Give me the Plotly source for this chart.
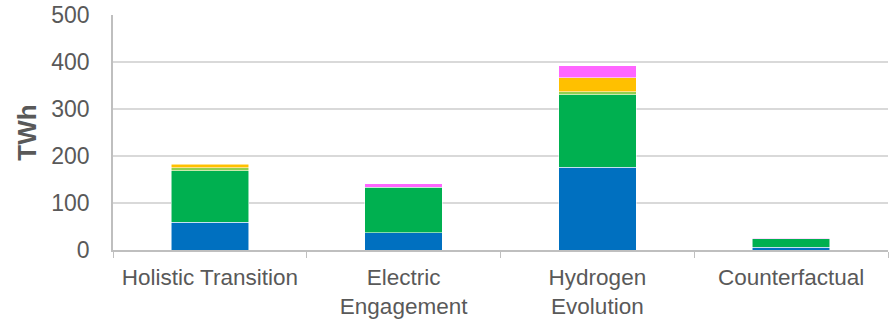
import plotly.graph_objects as go

# Scenario categories (x axis)
categories = ["Holistic Transition", "Electric<br>Engagement", "Hydrogen<br>Evolution", "Counterfactual"]

# Stacked components, TWh (None where a component is absent)
series_names = ["Component 1", "Component 2", "Component 3", "Component 4", "Component 5"]
blue_vals = [59, 37, 176, 6]
green_vals = [110, 96, 154, 18]
lightgreen_vals = [6, None, 7, None]
yellow_vals = [7, None, 30, None]
pink_vals = [None, 8, 25, 1]

series_values = [blue_vals, green_vals, lightgreen_vals, yellow_vals, pink_vals]
series_colors = ["#0070C0", "#00B050", "#92D050", "#FFC000", "#FF66FF"]

y_ticks = [0, 100, 200, 300, 400, 500]

fig = go.Figure()
for name, vals, col in zip(series_names, series_values, series_colors):
    fig.add_trace(go.Bar(
        x=categories, y=vals, name=name,
        marker=dict(color=col, line=dict(color="rgba(255,255,255,0.7)", width=0.75)),
    ))

font_family = "Arial"

fig.update_layout(
    barmode="stack",
    bargap=0.6,
    width=892, height=320,
    margin=dict(l=113, r=4, t=15, b=70),
    paper_bgcolor="white", plot_bgcolor="white",
    showlegend=False,
    font=dict(family=font_family, size=23, color="#595959"),
    xaxis=dict(
        automargin=False,
        showline=True, linecolor="#BFBFBF", linewidth=1.5,
        ticks="outside", tickson="boundaries", ticklen=6, tickcolor="#BFBFBF",
        tickfont=dict(family=font_family, size=22.5, color="#595959"),
        ticklabelstandoff=6,
        showgrid=False,
    ),
    yaxis=dict(
        automargin=False,
        range=[0, 500], tickvals=y_ticks,
        showline=True, linecolor="#BFBFBF", linewidth=1.5,
        showgrid=True, gridcolor="#D9D9D9", gridwidth=1.5,
        zeroline=False,
        ticks="", ticklabelstandoff=17,
        tickfont=dict(family=font_family, size=23, color="#595959"),
        title=dict(text="<b>TWh</b>", font=dict(family=font_family, size=26, color="#595959"), standoff=7),
    ),
)

fig.write_html("out.html")
